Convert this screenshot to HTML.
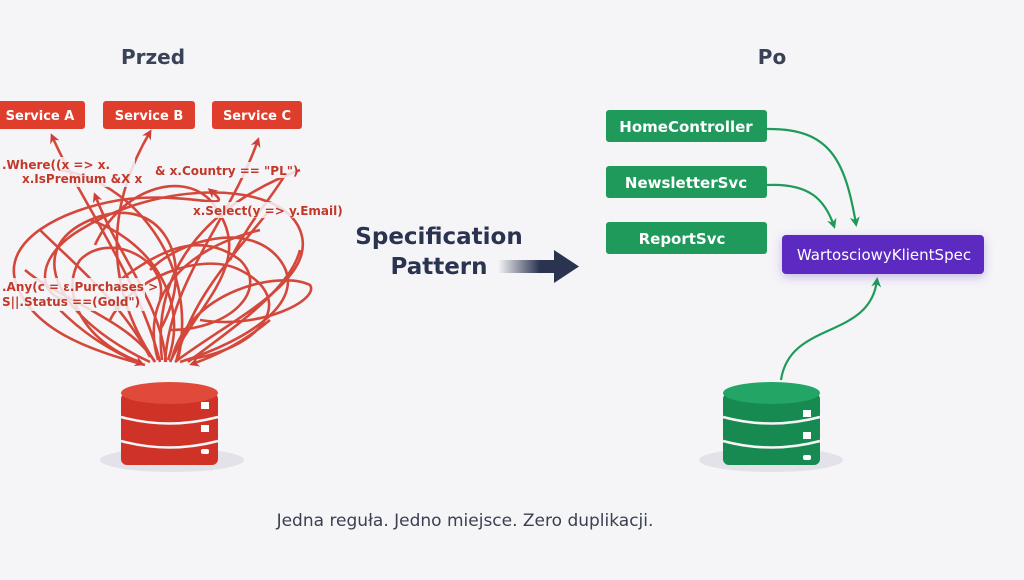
<!DOCTYPE html>
<html><head><meta charset="utf-8"><style>
html,body{margin:0;padding:0;background:#f5f5f8;}
body{width:1024px;height:576px;overflow:hidden;position:relative;font-family:"DejaVu Sans","Liberation Sans",sans-serif;}
</style></head><body>
<svg width="1024" height="576" viewBox="0 0 1024 576" xmlns="http://www.w3.org/2000/svg">
<defs>
<linearGradient id="ag" x1="0" x2="1"><stop offset="0" stop-color="#2a3350" stop-opacity="0"/><stop offset="0.7" stop-color="#2a3350"/></linearGradient>
<marker id="mr" markerWidth="10" markerHeight="10" refX="7" refY="5" orient="auto" markerUnits="userSpaceOnUse"><path d="M0,0 L10,5 L0,10 L3,5 Z" fill="#c9302a"/></marker>
<marker id="mg" markerWidth="10" markerHeight="10" refX="7" refY="5" orient="auto" markerUnits="userSpaceOnUse"><path d="M0,0 L10,5 L0,10 L3,5 Z" fill="#1e9a5a"/></marker>
<filter id="sh" x="-20%" y="-40%" width="140%" height="180%"><feDropShadow dx="0" dy="3" stdDeviation="5" flood-color="#7040c0" flood-opacity="0.35"/></filter>
</defs>
<text x="153" y="64" text-anchor="middle" font-size="20" font-weight="bold" fill="#3a4258">Przed</text>
<text x="772" y="64" text-anchor="middle" font-size="20" font-weight="bold" fill="#3a4258">Po</text>

<!-- red tangle -->
<g fill="none" stroke="#d23a2c" stroke-width="2.6" opacity="0.92">
<path d="M150,362 C60,320 20,250 90,220 C160,190 200,260 160,330"/>
<path d="M155,362 C100,280 110,200 150,132" marker-end="url(#mr)"/>
<path d="M160,362 C140,280 80,200 52,136" marker-end="url(#mr)"/>
<path d="M165,362 C170,280 230,220 258,140" marker-end="url(#mr)"/>
<path d="M170,362 C200,300 260,260 210,200 C180,170 120,190 95,245"/>
<path d="M175,362 C230,320 320,280 300,230 C280,180 160,180 80,230 C30,260 40,300 70,300"/>
<path d="M145,365 C90,350 30,330 15,280 C5,240 60,210 120,200 C190,190 240,215 210,190" marker-end="url(#mr)"/>
<path d="M180,362 C250,340 310,300 280,260 C250,220 180,240 150,270"/>
<path d="M150,357 C120,300 70,260 40,230"/>
<path d="M158,360 C140,300 180,250 260,230"/>
<path d="M168,360 C190,300 150,240 90,220"/>
<path d="M172,358 C190,290 280,270 310,285 C320,300 260,330 200,320"/>
<path d="M140,362 C80,340 60,290 80,260 C110,230 170,260 160,300"/>
<path d="M185,360 C260,350 300,300 240,270 C200,250 130,280 110,320"/>
<path d="M60,310 C90,340 120,355 142,364" marker-end="url(#mr)"/>
<path d="M270,320 C240,345 210,358 192,364" marker-end="url(#mr)"/>
<path d="M162,360 C150,260 220,200 300,170"/>
<path d="M178,360 C200,260 130,180 60,170"/>
<path d="M120,280 C160,250 200,230 240,260 C270,290 230,330 170,330"/>
<path d="M230,260 C250,220 270,200 285,175"/>
<path d="M166,362 C160,300 120,260 95,195" marker-end="url(#mr)"/>
<path d="M176,362 C190,300 230,260 268,212"/>
<path d="M155,362 C130,320 60,300 25,270"/>
<path d="M188,362 C230,330 290,290 300,250"/>
</g>
<!-- code labels -->
<g font-size="12" fill="#c2382a" font-weight="bold">
<rect x="0" y="157" width="135" height="30" fill="#f5f5f8" opacity="0.85"/>
<text x="2" y="169">.Where((x =&gt; x.</text>
<text x="22" y="183">x.IsPremium &amp;X x</text>
<rect x="152" y="162" width="145" height="16" fill="#f5f5f8" opacity="0.85"/>
<text x="155" y="175">&amp; x.Country ==  "PL")</text>
<rect x="190" y="202" width="142" height="16" fill="#f5f5f8" opacity="0.85"/>
<text x="193" y="215">x.Select(y =&gt; y.Email)</text>
<rect x="0" y="278" width="145" height="33" fill="#f5f5f8" opacity="0.85"/>
<text x="2" y="291">.Any(c = ɛ.Purchases &gt;</text>
<text x="2" y="306">S||.Status ==(Gold")</text>
</g>
<!-- service boxes -->
<g font-size="13" font-weight="bold" fill="#fff">
<rect x="-4" y="101" width="89" height="28" rx="3" fill="#e03e2d"/><text x="40" y="120" text-anchor="middle">Service A</text>
<rect x="103" y="101" width="92" height="28" rx="3" fill="#e03e2d"/><text x="149" y="120" text-anchor="middle">Service B</text>
<rect x="212" y="101" width="90" height="28" rx="3" fill="#e03e2d"/><text x="257" y="120" text-anchor="middle">Service C</text>
</g>
<!-- red db -->
<ellipse cx="172" cy="460" rx="72" ry="12" fill="#e2e2e8"/>
<g>
<rect x="121" y="393" width="97" height="72" rx="6" fill="#cf3328"/>
<ellipse cx="169.5" cy="393" rx="48.5" ry="11" fill="#e04a3a"/>
<path d="M121,417 Q169,430 218,417 M121,441 Q169,454 218,441" stroke="#f5f5f8" stroke-width="2.5" fill="none"/>
<rect x="201" y="402" width="8" height="7" fill="#fff"/><rect x="201" y="425" width="8" height="7" fill="#fff"/><rect x="201" y="449" width="8" height="5" rx="2" fill="#fff"/>
</g>

<!-- middle -->
<text x="439" y="244" text-anchor="middle" font-size="23" font-weight="bold" fill="#2a3350">Specification</text>
<text x="439" y="274" text-anchor="middle" font-size="23" font-weight="bold" fill="#2a3350">Pattern</text>
<rect x="498" y="260" width="60" height="13" fill="url(#ag)"/>
<path d="M554,250 L579,266.5 L554,283 Z" fill="#2a3350"/>

<!-- green side -->
<g fill="none" stroke="#1e9a5a" stroke-width="2.2">
<path d="M767,129 C830,128 845,160 856,224" marker-end="url(#mg)"/>
<path d="M767,185 C810,183 825,200 834,226" marker-end="url(#mg)"/>
<path d="M781,380 C790,320 870,340 877,280" marker-end="url(#mg)"/>
</g>
<g font-size="15" font-weight="bold" fill="#fff">
<rect x="606" y="110" width="161" height="32" rx="3" fill="#1f9a5b"/><text x="686" y="132" text-anchor="middle">HomeController</text>
<rect x="606" y="166" width="161" height="32" rx="3" fill="#1f9a5b"/><text x="686" y="188" text-anchor="middle">NewsletterSvc</text>
<rect x="606" y="222" width="161" height="32" rx="3" fill="#1f9a5b"/><text x="682" y="244" text-anchor="middle">ReportSvc</text>
<rect x="782" y="235" width="202" height="39" rx="4" fill="#5b2cc0" filter="url(#sh)"/><text x="884" y="260" text-anchor="middle" font-size="15" font-weight="normal">WartosciowyKlientSpec</text>
</g>
<ellipse cx="771" cy="460" rx="72" ry="12" fill="#e2e2e8"/>
<g>
<rect x="723" y="393" width="97" height="72" rx="6" fill="#178a51"/>
<ellipse cx="771.5" cy="393" rx="48.5" ry="11" fill="#22a565"/>
<path d="M723,417 Q771,430 820,417 M723,441 Q771,454 820,441" stroke="#f5f5f8" stroke-width="2.5" fill="none"/>
<rect x="803" y="410" width="8" height="7" fill="#fff"/><rect x="803" y="432" width="8" height="7" fill="#fff"/><rect x="803" y="455" width="8" height="5" rx="2" fill="#fff"/>
</g>

<text x="465" y="526" text-anchor="middle" font-size="17" fill="#3a4050">Jedna reguła. Jedno miejsce. Zero duplikacji.</text>
</svg>
</body></html>
